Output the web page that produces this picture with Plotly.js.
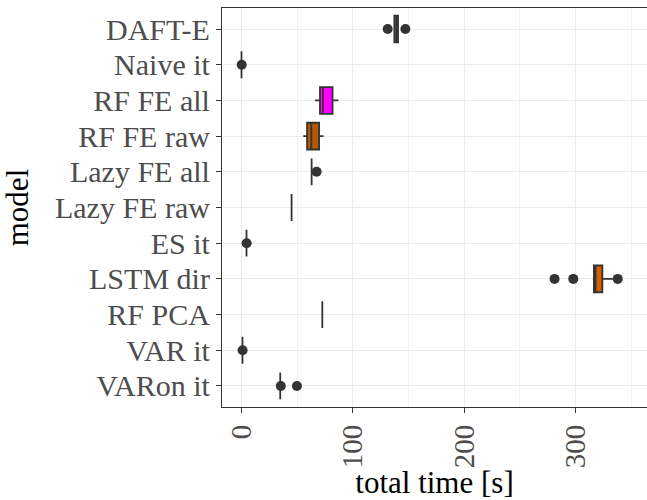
<!DOCTYPE html>
<html>
<head>
<meta charset="utf-8">
<script src="https://cdn.plot.ly/plotly-3.0.1.min.js"></script>
<style>html,body{margin:0;padding:0;background:#fff;}#chart{width:647px;height:500px;}</style>
</head>
<body>
<div id="chart"></div>
<script>
// Data
var models = ["DAFT-E","Naive it","RF FE all","RF FE raw","Lazy FE all","Lazy FE raw","ES it","LSTM dir","RF PCA","VAR it","VARon it"];
var lowerWhisker = [137.3, 0.0, 66.0, 55.5, 63.0, 45.0, 4.5, 315.6, 72.6, 0.9, 34.8];
var q1Values     = [137.3, 0.0, 70.5, 58.9, 63.0, 45.0, 4.5, 316.5, 72.6, 0.9, 34.8];
var medianValues = [139.0, 0.0, 73.2, 62.7, 63.0, 45.0, 4.5, 318.0, 72.6, 0.9, 34.8];
var q3Values     = [140.6, 0.0, 81.8, 69.7, 63.0, 45.0, 4.5, 324.1, 72.6, 0.9, 34.8];
var upperWhisker = [140.6, 0.0, 87.0, 73.7, 63.0, 45.0, 4.5, 334.0, 72.6, 0.9, 34.8];
var outlierModels = ["DAFT-E","DAFT-E","Naive it","Lazy FE all","ES it","LSTM dir","LSTM dir","LSTM dir","VAR it","VARon it","VARon it"];
var outlierValues = [131.3, 147.2, 0.2, 67.5, 4.6, 281.2, 298.0, 337.9, 1.0, 35.3, 49.8];
var xTickValues = [0, 100, 200, 300];
var xMinorValues = [50, 150, 250, 350];

// Styles
var fillByModel = {"RF FE all":"#FF00FF","RF FE raw":"#B35A00","LSTM dir":"#D55E00"};
var lineColor = "#333333";

var traces = models.map(function(m, i){
  return {
    type: "box",
    orientation: "h",
    y: [m],
    q1: [q1Values[i]],
    median: [medianValues[i]],
    q3: [q3Values[i]],
    lowerfence: [lowerWhisker[i]],
    upperfence: [upperWhisker[i]],
    boxpoints: false,
    width: 0.75,
    whiskerwidth: 0,
    fillcolor: fillByModel[m] || "#FFFFFF",
    line: {color: lineColor, width: 1.8},
    showlegend: false,
    hoverinfo: "skip"
  };
});
traces.push({
  type: "scatter",
  mode: "markers",
  x: outlierValues,
  y: outlierModels,
  marker: {color: lineColor, size: 10},
  showlegend: false,
  hoverinfo: "skip"
});

var serif = "Liberation Serif";
var layout = {
  width: 647, height: 500,
  margin: {l: 222, r: 0, t: 8, b: 93},
  paper_bgcolor: "#FFFFFF",
  plot_bgcolor: "#FFFFFF",
  boxmode: "overlay",
  font: {family: serif, size: 30, color: "#4D4D4D"},
  xaxis: {
    range: [-17.5, 364.2],
    tickmode: "array",
    tickvals: xTickValues,
    ticktext: xTickValues.map(String),
    tickangle: -90,
    ticks: "outside", ticklen: 5, tickwidth: 1.1, tickcolor: lineColor,
    showgrid: true, gridcolor: "#EBEBEB", gridwidth: 1,
    minor: {tickmode: "array", tickvals: xMinorValues, showgrid: true, gridcolor: "#EBEBEB", gridwidth: 0.7, ticks: ""},
    zeroline: false,
    showline: true, linecolor: lineColor, linewidth: 1.1, mirror: true,
    tickfont: {family: serif, size: 29, color: "#4D4D4D"},
    title: {text: "total time [s]", font: {family: serif, size: 31, color: "#000000"}, standoff: 2},
    automargin: false
  },
  yaxis: {
    type: "category",
    categoryorder: "array",
    categoryarray: models,
    tickmode: "array",
    tickvals: models,
    ticktext: models,
    range: [10.59, -0.59],
    ticks: "outside", ticklen: 5, tickwidth: 1.1, tickcolor: lineColor,
    showgrid: true, gridcolor: "#EBEBEB", gridwidth: 1,
    zeroline: false,
    showline: true, linecolor: lineColor, linewidth: 1.1, mirror: true,
    tickfont: {family: serif, size: 30, color: "#4D4D4D"},
    title: {text: "model", font: {family: serif, size: 31, color: "#000000"}, standoff: 26},
    automargin: false
  }
};
Plotly.newPlot("chart", traces, layout, {displayModeBar: false, staticPlot: true});
</script>
</body>
</html>
